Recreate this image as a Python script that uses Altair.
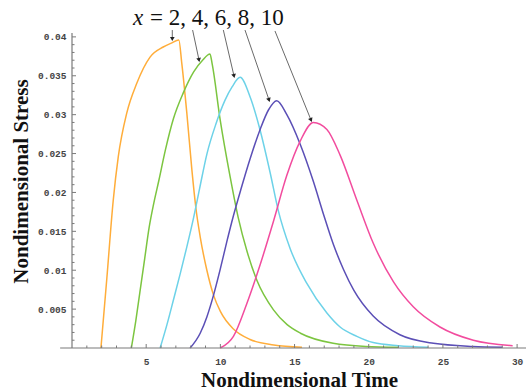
import math
import altair as alt
import pandas as pd

# ---------------- data ----------------
names = ["x = 2", "x = 4", "x = 6", "x = 8", "x = 10"]
colors = ["#ffad3a", "#7cc540", "#6dd2e8", "#5b4fb6", "#f24c9e"]

t_x2 = [1.95, 2.35, 2.78, 3.12, 3.69, 4.36, 5.26, 6.15, 6.7, 7.2,
        7.4, 7.74, 8.08, 8.35, 8.64, 9.09, 9.54, 10.0, 10.9, 12.0, 13.6, 15.5]
s_x2 = [0.0, 0.009, 0.019, 0.0246, 0.0302, 0.034, 0.0374, 0.0387, 0.0392, 0.0396,
        0.0366, 0.0302, 0.0229, 0.018, 0.0143, 0.0100, 0.0068, 0.0047, 0.0024, 0.0011, 0.0004, 0.0001]

t_x4 = [4.0, 4.3, 4.6, 4.9, 5.2, 5.5, 5.85, 6.3, 6.84, 7.5, 8.2, 8.8, 9.3,
        9.45, 9.99, 10.66, 11.2, 11.8, 12.46, 13.58, 14.5, 15.4, 17.6, 19.8, 22.0]
s_x4 = [0.0, 0.0035, 0.0075, 0.0115, 0.0155, 0.0185, 0.0215, 0.0255, 0.0295, 0.0328, 0.0355, 0.037, 0.0378,
        0.0365, 0.0293, 0.022, 0.0168, 0.0124, 0.0087, 0.0049, 0.003, 0.0019, 0.0006, 0.0002, 0.0001]

t_x6 = [5.94, 6.4, 6.84, 7.3, 7.74, 8.2, 8.6, 9.1, 9.7, 10.3, 10.8, 11.33,
        12.0, 12.68, 13.36, 13.9, 14.7, 15.83, 17.18, 18.07, 19.2, 20.3, 22.0, 24.0]
s_x6 = [0.0, 0.003, 0.0062, 0.0096, 0.013, 0.0168, 0.0205, 0.025, 0.0288, 0.0318, 0.0336, 0.0348,
        0.0323, 0.028, 0.0225, 0.0177, 0.0128, 0.0083, 0.0045, 0.0027, 0.0015, 0.0007, 0.0003, 0.0001]

t_x8 = [7.96, 8.64, 9.09, 9.54, 10.0, 10.44, 10.88, 11.4, 12.0, 12.68, 13.24, 13.8,
        14.48, 15.38, 16.27, 16.95, 17.62, 18.3, 19.0, 20.3, 22.1, 24.36, 27.0, 29.0]
s_x8 = [0.0, 0.0019, 0.004, 0.0068, 0.0102, 0.0137, 0.017, 0.0205, 0.0243, 0.0281, 0.0306, 0.0318,
        0.0300, 0.0262, 0.0214, 0.0172, 0.0133, 0.0101, 0.0074, 0.0041, 0.0017, 0.0006, 0.0002, 0.0001]

t_x10 = [9.99, 10.88, 11.78, 12.68, 13.58, 14.48, 15.38, 16.27, 17.18,
         18.07, 19.2, 20.3, 21.67, 23.0, 24.8, 27.05, 29.7]
s_x10 = [0.0, 0.0015, 0.0057, 0.0107, 0.0163, 0.0222, 0.0266, 0.029, 0.0281,
         0.0248, 0.019, 0.0135, 0.0085, 0.0053, 0.0027, 0.0010, 0.0003]

x_major = [5, 10, 15, 20, 25, 30]
x_minor = [v for v in range(1, 31) if v % 5 != 0]
y_major = [0.005, 0.01, 0.015, 0.02, 0.025, 0.03, 0.035, 0.04]
y_minor = [round(i * 0.001, 3) for i in range(1, 41) if i % 5 != 0]

# annotation arrows (data coordinates): start and tip
arrow_t0 = [6.76, 8.13, 10.2, 11.66, 13.68]
arrow_s0 = [0.04088, 0.04088, 0.04088, 0.04088, 0.04076]
arrow_t1 = [6.76, 8.56, 10.92, 13.28, 16.11]
arrow_s1 = [0.03973, 0.03703, 0.03497, 0.03189, 0.02931]
label_var = "x"
label_rest = "= 2, 4, 6, 8, 10"
label_t = [4.11, 5.26]
label_s = 0.04153

# ---------------- layout ----------------
W, H = 454, 315
X_MAX, Y_MAX = 30.6, 0.0405
PX_T = W / X_MAX
PX_S = H / Y_MAX

rows = []
for name, ts, ss in zip(names, [t_x2, t_x4, t_x6, t_x8, t_x10], [s_x2, s_x4, s_x6, s_x8, s_x10]):
    for i, (t, s) in enumerate(zip(ts, ss)):
        rows.append({"series": name, "t": t, "s": s, "i": i})
df = pd.DataFrame(rows)

xs = alt.Scale(domain=[0, X_MAX], nice=False, zero=False)
ys = alt.Scale(domain=[0, Y_MAX], nice=False, zero=False)

SERIF = "Liberation Serif"
MONO = "Liberation Mono"

x_axis = alt.Axis(values=x_major, ticks=False, tickSize=0, domain=False, grid=False,
                  labelFont=MONO, labelFontWeight="bold", labelFontSize=9.5, labelColor="#444",
                  labelPadding=8, title="Nondimensional Time", titleFont=SERIF,
                  titleFontSize=21, titleFontWeight="bold", titleColor="#111",
                  titleBaseline="alphabetic", titleY=38)
y_axis = alt.Axis(values=y_major, format=".3~f", ticks=False, tickSize=0, domain=False, grid=False,
                  labelFont=MONO, labelFontWeight="bold", labelFontSize=9.5, labelColor="#444",
                  labelPadding=6, title="Nondimensional Stress", titleFont=SERIF,
                  titleFontSize=21, titleFontWeight="bold", titleColor="#111",
                  titleBaseline="alphabetic", titleX=-45, titleY=148, titleAngle=270)

lines = alt.Chart(df).mark_line(strokeWidth=1.5, interpolate="monotone").encode(
    x=alt.X("t:Q", scale=xs, axis=x_axis),
    y=alt.Y("s:Q", scale=ys, axis=y_axis),
    color=alt.Color("series:N", scale=alt.Scale(domain=names, range=colors), legend=None),
    order="i:Q",
)

AX = "#7a7a7a"
x_line = alt.Chart(pd.DataFrame({"a": [0]})).mark_rule(color=AX, strokeWidth=1.2).encode(
    x=alt.datum(-0.8, scale=xs), x2=alt.datum(X_MAX), y=alt.datum(0, scale=ys))
y_line = alt.Chart(pd.DataFrame({"a": [0]})).mark_rule(color=AX, strokeWidth=1.2).encode(
    x=alt.datum(0, scale=xs), y=alt.datum(0, scale=ys), y2=alt.datum(Y_MAX))

xt_major = alt.Chart(pd.DataFrame({"t": x_major})).mark_rule(color=AX).encode(
    x=alt.X("t:Q", scale=xs), y=alt.value(H), y2=alt.value(H - 4))
xt_minor = alt.Chart(pd.DataFrame({"t": x_minor})).mark_rule(color=AX).encode(
    x=alt.X("t:Q", scale=xs), y=alt.value(H), y2=alt.value(H - 2.5))
yt_major = alt.Chart(pd.DataFrame({"s": y_major})).mark_rule(color=AX).encode(
    y=alt.Y("s:Q", scale=ys), x=alt.value(0), x2=alt.value(4))
yt_minor = alt.Chart(pd.DataFrame({"s": y_minor})).mark_rule(color=AX).encode(
    y=alt.Y("s:Q", scale=ys), x=alt.value(0), x2=alt.value(2.5))

adf = pd.DataFrame({"t0": arrow_t0, "s0": arrow_s0, "t1": arrow_t1, "s1": arrow_s1})
adf["ang"] = [(-math.degrees(math.atan2((b - a) * PX_T, (c - d) * PX_S))) % 360
              for a, b, c, d in zip(adf.t0, adf.t1, adf.s0, adf.s1)]
arrow_lines = alt.Chart(adf).mark_rule(color="#6a6a6a", strokeWidth=1).encode(
    x=alt.X("t0:Q", scale=xs), y=alt.Y("s0:Q", scale=ys), x2="t1:Q", y2="s1:Q")
arrow_heads = alt.Chart(adf).mark_point(shape="triangle-down", filled=True, size=22,
                                        color="#222", opacity=1).encode(
    x=alt.X("t1:Q", scale=xs), y=alt.Y("s1:Q", scale=ys), angle=alt.Angle("ang:Q", scale=None))

ldf = pd.DataFrame({"t": label_t, "s": [label_s, label_s], "txt": [label_var, label_rest]})
lab_x = alt.Chart(ldf.iloc[[0]]).mark_text(font=SERIF, fontSize=23, fontStyle="italic",
                                           align="left", baseline="alphabetic", color="#111").encode(
    x=alt.X("t:Q", scale=xs), y=alt.Y("s:Q", scale=ys), text="txt:N")
lab_rest = alt.Chart(ldf.iloc[[1]]).mark_text(font=SERIF, fontSize=23,
                                              align="left", baseline="alphabetic", color="#111").encode(
    x=alt.X("t:Q", scale=xs), y=alt.Y("s:Q", scale=ys), text="txt:N")

chart = alt.layer(
    lines, x_line, y_line, xt_major, xt_minor, yt_major, yt_minor,
    arrow_lines, arrow_heads, lab_x, lab_rest
).properties(
    width=W, height=H,
    autosize=alt.AutoSizeParams(type="none"),
    padding={"left": 72, "top": 33, "right": 0, "bottom": 44},
    background="white",
).configure_view(stroke=None)

chart.save("out.html", embed_options={"renderer": "svg", "actions": False})
